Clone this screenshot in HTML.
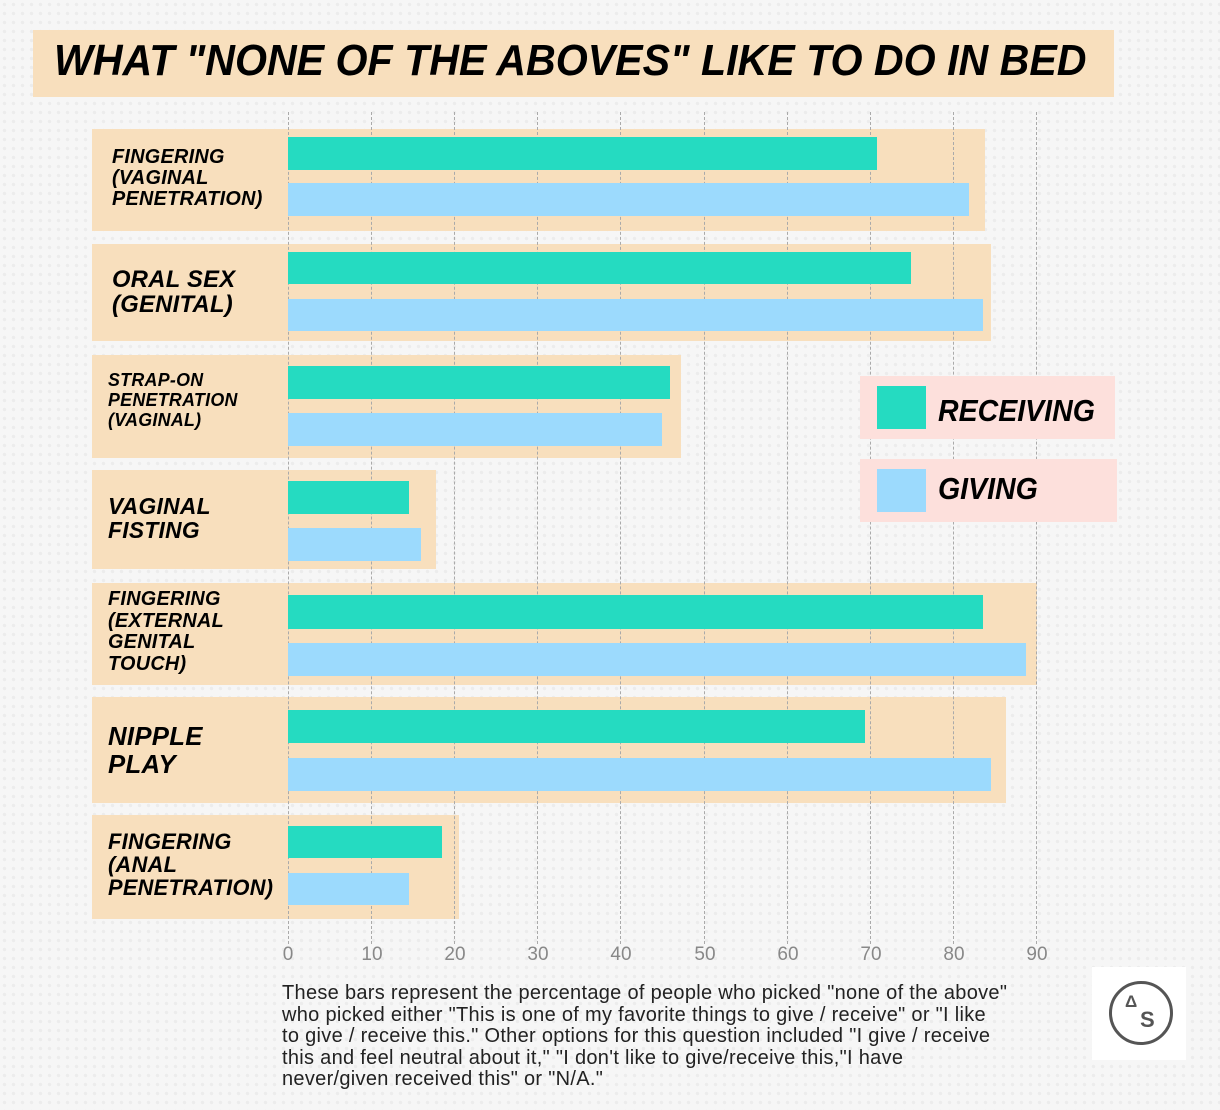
<!DOCTYPE html>
<html><head><meta charset="utf-8"><style>
body{margin:0;width:1220px;height:1110px;position:relative;overflow:hidden;background:#f6f6f6;font-family:"Liberation Sans",sans-serif;
background-image:radial-gradient(circle,#ececec 1.5px,transparent 2px);background-size:9px 9px;}
.a{position:absolute}
.box{position:absolute;background:#f8dfbd}
.t{background:#25dbc1;position:absolute;left:288px;height:33px}
.g{background:#9cdafd;position:absolute;left:288px;height:33px}
.grid{position:absolute;top:112px;height:832px;border-left:1px dashed #aaa}
.lab{position:absolute;left:110px;font-family:"Liberation Sans",sans-serif;font-weight:bold;font-style:italic;color:#000;letter-spacing:0.3px;transform:scaleX(0.99);transform-origin:left top}
.tick{position:absolute;top:944px;font-family:"Liberation Sans",sans-serif;font-size:19px;color:#888;transform:translateX(-50%)}
.leg{position:absolute;background:#fde0dc}
.lt{position:absolute;font-family:"Liberation Sans",sans-serif;font-weight:bold;font-style:italic;font-size:31px;transform:scaleX(0.92);transform-origin:left top}
</style></head><body>
<div class="box" style="left:33px;top:30px;width:1081px;height:67px"></div>
<div class="a" style="left:54px;top:36px;font-family:'Liberation Sans',sans-serif;font-weight:bold;font-style:italic;font-size:44px;white-space:nowrap;line-height:50px;transform:scaleX(0.935);transform-origin:left top">WHAT "NONE OF THE ABOVES" LIKE TO DO IN BED</div>

<div class="box" style="left:92px;top:129px;width:893px;height:102px"></div>
<div class="box" style="left:92px;top:244px;width:899px;height:97px"></div>
<div class="box" style="left:92px;top:355px;width:589px;height:103px"></div>
<div class="box" style="left:92px;top:470px;width:344px;height:99px"></div>
<div class="box" style="left:92px;top:583px;width:945px;height:102px"></div>
<div class="box" style="left:92px;top:697px;width:914px;height:106px"></div>
<div class="box" style="left:92px;top:815px;width:367px;height:104px"></div>

<div class="grid" style="left:288px"></div><div class="grid" style="left:371px"></div><div class="grid" style="left:454px"></div><div class="grid" style="left:537px"></div><div class="grid" style="left:620px"></div><div class="grid" style="left:704px"></div><div class="grid" style="left:787px"></div><div class="grid" style="left:870px"></div><div class="grid" style="left:953px"></div><div class="grid" style="left:1036px"></div>

<div class="t" style="top:137px;width:589px"></div><div class="g" style="top:183px;width:681px"></div>
<div class="t" style="top:252px;width:623px;height:32px"></div><div class="g" style="top:299px;width:695px;height:32px"></div>
<div class="t" style="top:366px;width:382px"></div><div class="g" style="top:413px;width:374px"></div>
<div class="t" style="top:481px;width:121px"></div><div class="g" style="top:528px;width:133px"></div>
<div class="t" style="top:595px;width:695px;height:34px"></div><div class="g" style="top:643px;width:738px"></div>
<div class="t" style="top:710px;width:577px"></div><div class="g" style="top:758px;width:703px"></div>
<div class="t" style="top:826px;width:154px;height:32px"></div><div class="g" style="top:873px;width:121px;height:32px"></div>

<div class="lab" style="left:112px;top:147px;font-size:20px;line-height:21px">FINGERING<br>(VAGINAL<br>PENETRATION)</div>
<div class="lab" style="left:112px;top:267px;font-size:24px;line-height:25px">ORAL SEX<br>(GENITAL)</div>
<div class="lab" style="left:108px;top:370px;font-size:18px;line-height:20px">STRAP-ON<br>PENETRATION<br>(VAGINAL)</div>
<div class="lab" style="left:108px;top:494px;font-size:23px;line-height:24px">VAGINAL<br>FISTING</div>
<div class="lab" style="left:108px;top:589px;font-size:20px;line-height:21.5px">FINGERING<br>(EXTERNAL<br>GENITAL<br>TOUCH)</div>
<div class="lab" style="left:108px;top:722px;font-size:26px;line-height:28px">NIPPLE<br>PLAY</div>
<div class="lab" style="left:108px;top:830px;font-size:22px;line-height:23px">FINGERING<br>(ANAL<br>PENETRATION)</div>

<div class="leg" style="left:860px;top:376px;width:255px;height:63px"></div>
<div class="a" style="left:877px;top:386px;width:49px;height:43px;background:#25dbc1"></div>
<div class="lt" style="left:938px;top:393px">RECEIVING</div>
<div class="leg" style="left:860px;top:459px;width:257px;height:63px"></div>
<div class="a" style="left:877px;top:469px;width:49px;height:43px;background:#9cdafd"></div>
<div class="lt" style="left:938px;top:471px">GIVING</div>

<div class="tick" style="left:288px">0</div><div class="tick" style="left:372px">10</div><div class="tick" style="left:455px">20</div><div class="tick" style="left:538px">30</div><div class="tick" style="left:621px">40</div><div class="tick" style="left:705px">50</div><div class="tick" style="left:788px">60</div><div class="tick" style="left:871px">70</div><div class="tick" style="left:954px">80</div><div class="tick" style="left:1037px">90</div>

<div class="a" style="left:282px;top:983px;width:800px;font-family:'Liberation Sans',sans-serif;font-size:20px;letter-spacing:0.3px;line-height:21.5px;color:#222;white-space:nowrap">These bars represent the percentage of people who picked "none of the above"<br>who picked either "This is one of my favorite things to give / receive" or "I like<br>to give / receive this." Other options for this question included "I give / receive<br>this and feel neutral about it," "I don't like to give/receive this,"I have<br>never/given received this" or "N/A."</div>

<div class="a" style="left:1092px;top:967px;width:94px;height:93px;background:#fff"></div>
<div class="a" style="left:1109px;top:981px;width:58px;height:58px;border:3px solid #555;border-radius:50%"></div>
<div class="a" style="left:1125px;top:992px;font-size:17px;font-weight:bold;color:#555">&#916;</div>
<div class="a" style="left:1140px;top:1007px;font-size:22px;font-weight:bold;color:#555">S</div>
</body></html>
